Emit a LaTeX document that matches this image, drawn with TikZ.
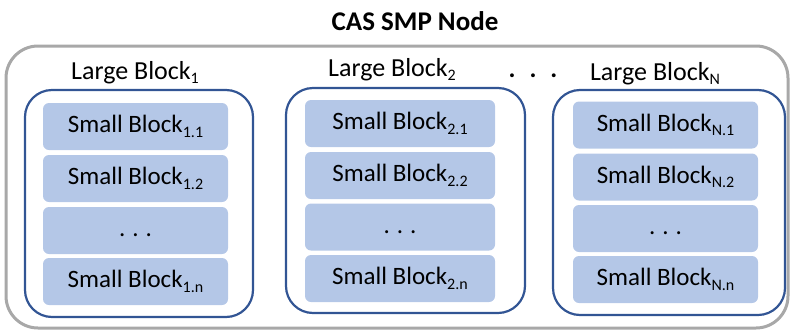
\documentclass[tikz,border=0pt]{standalone}
\usepackage{fontspec}
\setmainfont{Carlito}
\definecolor{blkfill}{RGB}{180,199,231}
\definecolor{bord}{RGB}{50,85,148}
\definecolor{outergray}{RGB}{168,168,168}
\newcommand{\sbsc}[1]{\raisebox{-4.5pt}{\fontsize{16}{16}\selectfont #1}}
\newcommand{\sdots}{.\hspace{7pt}.\hspace{7pt}.}
\tikzset{
  outerbox/.style={draw=outergray, line width=3pt, rounded corners=32pt},
  largebox/.style={draw=bord, line width=2.2pt, rounded corners=27pt, inner sep=0pt},
  smallbox/.style={fill=blkfill, rounded corners=6pt, minimum height=47pt, inner sep=0pt,
    font=\fontsize{25}{25}\selectfont, text height=17pt, text depth=5pt},
  lbl/.style={font=\fontsize{26}{26}\selectfont, anchor=base, inner sep=0pt},
}
\begin{document}
\begin{tikzpicture}[x=1pt,y=-1pt]
\useasboundingbox (0,0) rectangle (790,330);
\node[outerbox, minimum width=782pt, minimum height=282pt] (outer) at (397,187) {};
\node[font=\fontsize{27}{27}\selectfont\bfseries, anchor=base, inner sep=0pt] (title) at (415,30) {CAS SMP Node};
% Large block 1
\node[largebox, minimum width=228pt, minimum height=227pt] (L1) at (139,203.5) {};
\node[lbl] (l1) at (135,79) {Large Block\sbsc{1}};
\node[smallbox, minimum width=185pt] (s11) at (135.5,126.5) {Small Block\sbsc{1.1}};
\node[smallbox, minimum width=185pt] (s12) at (135.5,178.5) {Small Block\sbsc{1.2}};
\node[smallbox, minimum width=185pt] (s1d) at (135.5,230.5) {\sdots};
\node[smallbox, minimum width=185pt] (s1n) at (135.5,281.5) {Small Block\sbsc{1.n}};
% Large block 2
\node[largebox, minimum width=239pt, minimum height=225pt] (L2) at (405.5,200.5) {};
\node[lbl] (l2) at (392,76) {Large Block\sbsc{2}};
\node[smallbox, minimum width=190pt] (s21) at (400,123.5) {Small Block\sbsc{2.1}};
\node[smallbox, minimum width=190pt] (s22) at (400,175.5) {Small Block\sbsc{2.2}};
\node[smallbox, minimum width=190pt] (s2d) at (400,227) {\sdots};
\node[smallbox, minimum width=190pt] (s2n) at (400,278.5) {Small Block\sbsc{2.n}};
% dots between
\node[lbl, font=\fontsize{26}{26}\selectfont\bfseries] (mid) at (533,77) {.\hspace{14pt}.\hspace{14pt}.};
% Large block N
\node[largebox, minimum width=232pt, minimum height=225pt] (LN) at (669,202.5) {};
\node[lbl] (lN) at (655,80) {Large Block\sbsc{N}};
\node[smallbox, minimum width=185pt] (sN1) at (665.5,125) {Small Block\sbsc{N.1}};
\node[smallbox, minimum width=185pt] (sN2) at (665.5,177) {Small Block\sbsc{N.2}};
\node[smallbox, minimum width=185pt] (sNd) at (665.5,228.5) {\sdots};
\node[smallbox, minimum width=185pt] (sNn) at (665.5,279.5) {Small Block\sbsc{N.n}};
\end{tikzpicture}
\end{document}
